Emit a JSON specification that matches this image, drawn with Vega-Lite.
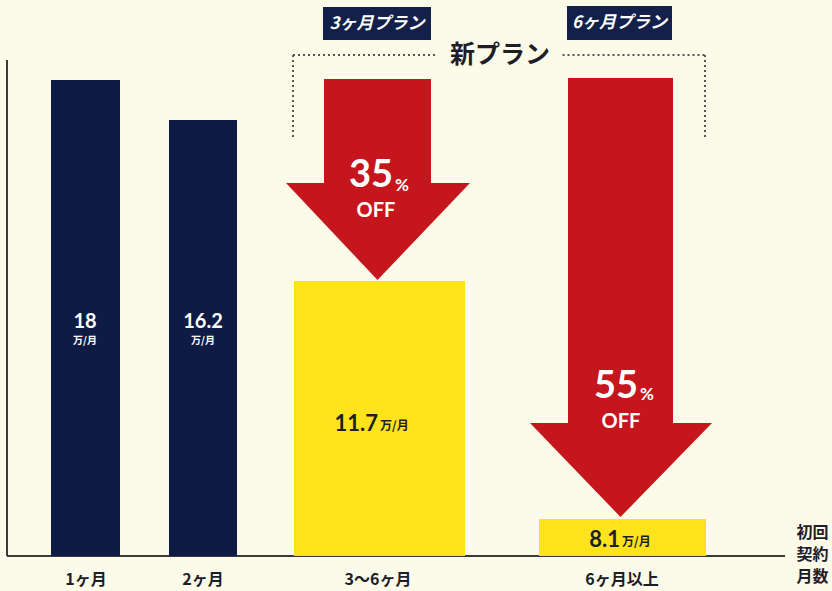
{
  "$schema": "https://vega.github.io/schema/vega-lite/v6.json",
  "width": 832,
  "height": 591,
  "autosize": {"type": "fit", "contains": "padding"},
  "padding": 0,
  "background": "#fcfbea",
  "config": {"view": {"stroke": null}},
  "datasets": {
    "bars": [
      {"plan": "1ヶ月", "price": 18, "group": "旧", "x": 2.04, "x2": 4.8, "y": 0, "y2": 19.04},
      {"plan": "2ヶ月", "price": 16.2, "group": "旧", "x": 6.76, "x2": 9.48, "y": 0, "y2": 17.44},
      {"plan": "3〜6ヶ月", "price": 11.7, "group": "新", "x": 11.76, "x2": 18.6, "y": 0, "y2": 11.0},
      {"plan": "6ヶ月以上", "price": 8.1, "group": "新", "x": 21.56, "x2": 28.24, "y": 0, "y2": 1.48}
    ],
    "shafts": [
      {"arrow": "35%", "x": 12.96, "x2": 17.24, "y": 19.08, "y2": 14.8},
      {"arrow": "55%", "x": 22.72, "x2": 26.92, "y": 19.12, "y2": 5.2}
    ],
    "heads": [
      {"arrow": "35%", "x": 11.44, "y": 14.92, "y2": 14.92},
      {"arrow": "35%", "x": 15.1, "y": 14.92, "y2": 11.04},
      {"arrow": "35%", "x": 18.8, "y": 14.92, "y2": 14.92},
      {"arrow": "55%", "x": 21.2, "y": 5.32, "y2": 5.32},
      {"arrow": "55%", "x": 24.82, "y": 5.32, "y2": 1.56},
      {"arrow": "55%", "x": 28.48, "y": 5.32, "y2": 5.32}
    ],
    "lines": [
      {"kind": "axis", "x": 0.28, "x2": 31.4, "y": 0, "y2": 0},
      {"kind": "axis", "x": 0.28, "x2": 0.28, "y": 0, "y2": 19.84},
      {"kind": "bracket", "x": 11.72, "x2": 17.5, "y": 20.04, "y2": 20.04},
      {"kind": "bracket", "x": 22.5, "x2": 28.2, "y": 20.04, "y2": 20.04},
      {"kind": "bracket", "x": 11.72, "x2": 11.72, "y": 20.04, "y2": 16.64},
      {"kind": "bracket", "x": 28.2, "x2": 28.2, "y": 20.04, "y2": 16.64}
    ],
    "badges": [
      {"label": "3ヶ月プラン", "x": 12.92, "x2": 17.24, "y": 21.96, "y2": 20.64, "cx": 15.08, "cy": 21.3},
      {"label": "6ヶ月プラン", "x": 22.68, "x2": 26.88, "y": 22.0, "y2": 20.64, "cx": 24.78, "cy": 21.32}
    ],
    "labels": [
      {"kind": "pct", "label": "35", "x": 14.84, "y": 15.2},
      {"kind": "pctsign", "label": "%", "x": 16.08, "y": 14.8},
      {"kind": "off", "label": "OFF", "x": 15.04, "y": 13.8},
      {"kind": "pct", "label": "55", "x": 24.64, "y": 6.76},
      {"kind": "pctsign", "label": "%", "x": 25.88, "y": 6.44},
      {"kind": "off", "label": "OFF", "x": 24.84, "y": 5.36},
      {"kind": "barval", "label": "18", "x": 3.4, "y": 9.36},
      {"kind": "barunit", "label": "万/月", "x": 3.4, "y": 8.6},
      {"kind": "barval", "label": "16.2", "x": 8.12, "y": 9.36},
      {"kind": "barunit", "label": "万/月", "x": 8.12, "y": 8.6},
      {"kind": "yval", "label": "11.7", "x": 15.12, "y": 5.28},
      {"kind": "yunit", "label": "万/月", "x": 15.2, "y": 5.2},
      {"kind": "yval", "label": "8.1", "x": 24.8, "y": 0.64},
      {"kind": "yunit", "label": "万/月", "x": 24.88, "y": 0.56},
      {"kind": "xlab", "label": "1ヶ月", "x": 3.44, "y": -0.96},
      {"kind": "xlab", "label": "2ヶ月", "x": 8.12, "y": -0.96},
      {"kind": "xlab", "label": "3〜6ヶ月", "x": 15.12, "y": -0.96},
      {"kind": "xlab", "label": "6ヶ月以上", "x": 24.88, "y": -0.96},
      {"kind": "xlab", "label": "初回", "x": 32.5, "y": 0.92},
      {"kind": "xlab", "label": "契約", "x": 32.5, "y": 0.04},
      {"kind": "xlab", "label": "月数", "x": 32.5, "y": -0.84},
      {"kind": "title", "label": "新プラン", "x": 20.0, "y": 20.04}
    ]
  },
  "encoding": {
    "x": {"field": "x", "type": "quantitative", "scale": {"domain": [0, 33.28], "nice": false, "zero": false}, "axis": null},
    "y": {"field": "y", "type": "quantitative", "scale": {"domain": [-1.4, 22.24], "nice": false, "zero": false}, "axis": null}
  },
  "layer": [
    {
      "data": {"name": "lines"},
      "transform": [{"filter": "datum.kind === 'axis'"}],
      "mark": {"type": "rule", "color": "#3a3a3a", "strokeWidth": 2},
      "encoding": {"x2": {"field": "x2"}, "y2": {"field": "y2"}}
    },
    {
      "data": {"name": "lines"},
      "transform": [{"filter": "datum.kind === 'bracket'"}],
      "mark": {"type": "rule", "color": "#555555", "strokeWidth": 2, "strokeDash": [2, 3]},
      "encoding": {"x2": {"field": "x2"}, "y2": {"field": "y2"}}
    },
    {
      "data": {"name": "bars"},
      "mark": {"type": "rect"},
      "encoding": {
        "x2": {"field": "x2"},
        "y2": {"field": "y2"},
        "color": {"field": "group", "type": "nominal", "scale": {"domain": ["旧", "新"], "range": ["#0e1b45", "#fde31c"]}, "legend": null}
      }
    },
    {
      "data": {"name": "shafts"},
      "mark": {"type": "rect", "color": "#c4161c"},
      "encoding": {"x2": {"field": "x2"}, "y2": {"field": "y2"}}
    },
    {
      "data": {"name": "heads"},
      "mark": {"type": "area", "color": "#c4161c", "opacity": 1, "interpolate": "linear"},
      "encoding": {
        "y": {"field": "y", "type": "quantitative", "stack": null},
        "y2": {"field": "y2"},
        "detail": {"field": "arrow", "type": "nominal"}
      }
    },
    {
      "data": {"name": "badges"},
      "mark": {"type": "rect", "color": "#13204a"},
      "encoding": {"x2": {"field": "x2"}, "y2": {"field": "y2"}}
    },
    {
      "data": {"name": "badges"},
      "mark": {"type": "text", "color": "#ffffff", "font": "Noto Sans CJK JP", "fontWeight": "bold", "fontStyle": "italic", "fontSize": 17, "align": "center", "baseline": "middle"},
      "encoding": {
        "x": {"field": "cx", "type": "quantitative"},
        "y": {"field": "cy", "type": "quantitative"},
        "text": {"field": "label"}
      }
    },
    {
      "data": {"name": "labels"},
      "transform": [{"filter": "datum.kind === 'pct'"}],
      "mark": {"type": "text", "color": "#ffffff", "font": "Lato", "fontWeight": "bold", "fontSize": 38, "align": "center", "baseline": "middle"},
      "encoding": {"text": {"field": "label"}}
    },
    {
      "data": {"name": "labels"},
      "transform": [{"filter": "datum.kind === 'pctsign'"}],
      "mark": {"type": "text", "color": "#ffffff", "font": "Lato", "fontWeight": "bold", "fontSize": 17, "align": "center", "baseline": "middle"},
      "encoding": {"text": {"field": "label"}}
    },
    {
      "data": {"name": "labels"},
      "transform": [{"filter": "datum.kind === 'off'"}],
      "mark": {"type": "text", "color": "#ffffff", "font": "Lato", "fontWeight": "bold", "fontSize": 20, "align": "center", "baseline": "middle", "letterSpacing": 2},
      "encoding": {"text": {"field": "label"}}
    },
    {
      "data": {"name": "labels"},
      "transform": [{"filter": "datum.kind === 'barval'"}],
      "mark": {"type": "text", "color": "#ffffff", "font": "Lato", "fontWeight": "bold", "fontSize": 20, "align": "center", "baseline": "middle"},
      "encoding": {"text": {"field": "label"}}
    },
    {
      "data": {"name": "labels"},
      "transform": [{"filter": "datum.kind === 'barunit'"}],
      "mark": {"type": "text", "color": "#ffffff", "font": "Noto Sans CJK JP", "fontWeight": "bold", "fontSize": 10, "align": "center", "baseline": "middle"},
      "encoding": {"text": {"field": "label"}}
    },
    {
      "data": {"name": "labels"},
      "transform": [{"filter": "datum.kind === 'yval'"}],
      "mark": {"type": "text", "color": "#1e1e28", "font": "Lato", "fontWeight": "bold", "fontSize": 22, "align": "right", "baseline": "middle"},
      "encoding": {"text": {"field": "label"}}
    },
    {
      "data": {"name": "labels"},
      "transform": [{"filter": "datum.kind === 'yunit'"}],
      "mark": {"type": "text", "color": "#1e1e28", "font": "Noto Sans CJK JP", "fontWeight": "bold", "fontSize": 12, "align": "left", "baseline": "middle"},
      "encoding": {"text": {"field": "label"}}
    },
    {
      "data": {"name": "labels"},
      "transform": [{"filter": "datum.kind === 'xlab'"}],
      "mark": {"type": "text", "color": "#1e1e28", "font": "Noto Sans CJK JP", "fontWeight": "bold", "fontSize": 16, "align": "center", "baseline": "middle"},
      "encoding": {"text": {"field": "label"}}
    },
    {
      "data": {"name": "labels"},
      "transform": [{"filter": "datum.kind === 'title'"}],
      "mark": {"type": "text", "color": "#1e1e28", "font": "Noto Sans CJK JP", "fontWeight": "bold", "fontSize": 25, "align": "center", "baseline": "middle", "letterSpacing": 2},
      "encoding": {"text": {"field": "label"}}
    }
  ]
}
